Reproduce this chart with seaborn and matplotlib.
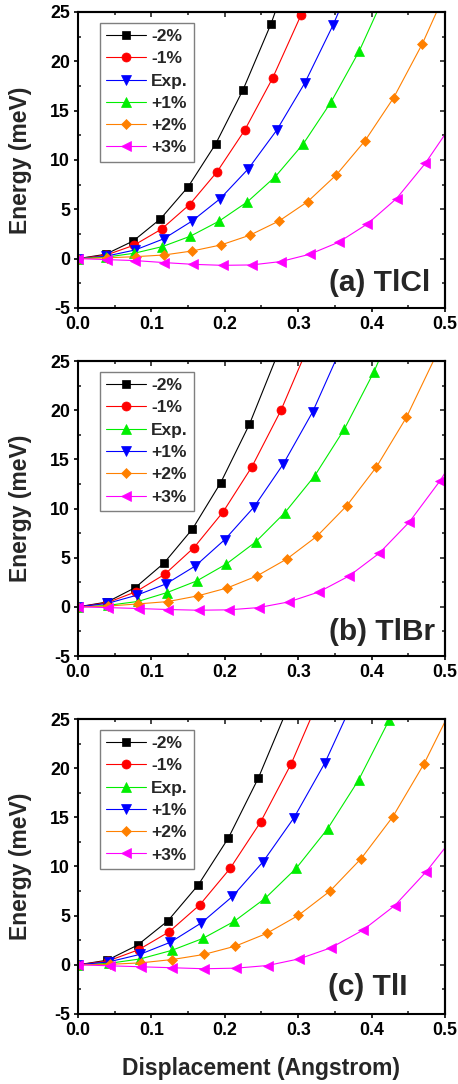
import matplotlib
matplotlib.use("Agg")
import matplotlib.pyplot as plt
import matplotlib.transforms as mtransforms
from matplotlib.ticker import MultipleLocator, FormatStrFormatter
import seaborn as sns

sns.set_theme(style="white")
plt.rcParams["font.family"] = ["Liberation Sans", "DejaVu Sans"]
plt.rcParams["font.weight"] = "bold"
plt.rcParams["axes.labelweight"] = "bold"
plt.rcParams["axes.unicode_minus"] = False

# ---------------- (a) TlCl ----------------
tlcl_m2_x = [0, 0.0376, 0.0753, 0.1124, 0.150, 0.1877, 0.2248, 0.263, 0.301]
tlcl_m2_e = [0, 0.44, 1.79, 4.03, 7.27, 11.64, 17.1, 23.8, 31.8]
tlcl_m1_x = [0, 0.038, 0.076, 0.114, 0.152, 0.1895, 0.227, 0.265, 0.3037, 0.342]
tlcl_m1_e = [0, 0.35, 1.35, 3.0, 5.48, 8.8, 13.0, 18.27, 24.66, 31.8]
tlcl_exp_x = [0, 0.0386, 0.078, 0.1165, 0.155, 0.1935, 0.232, 0.2706, 0.309, 0.3477, 0.386]
tlcl_exp_e = [0, 0.25, 0.88, 2.0, 3.79, 6.06, 9.1, 13.0, 17.8, 23.7, 30.4]
tlcl_p1_x = [0, 0.0384, 0.0768, 0.115, 0.153, 0.192, 0.2307, 0.269, 0.307, 0.345, 0.3835, 0.422]
tlcl_p1_e = [0, 0.15, 0.55, 1.22, 2.27, 3.79, 5.75, 8.32, 11.64, 15.9, 21.08, 27.4]
tlcl_p2_x = [0, 0.039, 0.0789, 0.1174, 0.156, 0.195, 0.234, 0.274, 0.313, 0.352, 0.391, 0.430, 0.469, 0.508]
tlcl_p2_e = [0, 0.08, 0.2, 0.37, 0.78, 1.39, 2.37, 3.82, 5.78, 8.49, 11.94, 16.3, 21.75, 28.2]
tlcl_p3_x = [0, 0.0394, 0.078, 0.117, 0.157, 0.197, 0.2366, 0.276, 0.3155, 0.355, 0.394, 0.434, 0.473, 0.512]
tlcl_p3_e = [0, -0.1, -0.2, -0.4, -0.58, -0.68, -0.64, -0.3, 0.44, 1.66, 3.5, 6.09, 9.64, 13.9]

# ---------------- (b) TlBr ----------------
tlbr_m2_x = [0, 0.0399, 0.078, 0.117, 0.156, 0.1945, 0.2335, 0.2725]
tlbr_m2_e = [0, 0.5, 1.96, 4.44, 7.93, 12.64, 18.56, 25.8]
tlbr_m1_x = [0, 0.0395, 0.0784, 0.1183, 0.158, 0.1976, 0.237, 0.2765, 0.316]
tlbr_m1_e = [0, 0.42, 1.52, 3.32, 6.03, 9.65, 14.26, 19.99, 26.9]
tlbr_exp_x = [0, 0.0403, 0.0816, 0.1215, 0.1618, 0.2017, 0.242, 0.2819, 0.3223, 0.3627, 0.403, 0.443]
tlbr_exp_e = [0, 0.15, 0.55, 1.46, 2.64, 4.34, 6.6, 9.59, 13.31, 18.06, 23.88, 30.7]
tlbr_p1_x = [0, 0.04, 0.0802, 0.120, 0.160, 0.1999, 0.2398, 0.2797, 0.3196, 0.3595]
tlbr_p1_e = [0, 0.35, 1.19, 2.34, 4.17, 6.84, 10.16, 14.53, 19.82, 26.5]
tlbr_p2_x = [0, 0.0408, 0.0816, 0.1224, 0.1632, 0.2035, 0.2439, 0.2847, 0.3255, 0.3663, 0.4066, 0.4474, 0.488]
tlbr_p2_e = [0, 0.08, 0.3, 0.54, 1.12, 1.93, 3.15, 4.88, 7.18, 10.3, 14.23, 19.27, 25.6]
tlbr_p3_x = [0, 0.0404, 0.0825, 0.1233, 0.1646, 0.2054, 0.2462, 0.2874, 0.3282, 0.3695, 0.4103, 0.4515, 0.4927, 0.534]
tlbr_p3_e = [0, -0.07, -0.17, -0.27, -0.34, -0.3, -0.07, 0.51, 1.52, 3.15, 5.45, 8.64, 12.77, 17.6]

# ---------------- (c) TlI ----------------
tli_m2_x = [0, 0.0399, 0.0811, 0.1224, 0.1636, 0.2049, 0.2457, 0.2867]
tli_m2_e = [0, 0.47, 2.0, 4.47, 8.1, 12.9, 19.0, 26.3]
tli_m1_x = [0, 0.0413, 0.0825, 0.1242, 0.1659, 0.2072, 0.2489, 0.2906, 0.3323]
tli_m1_e = [0, 0.4, 1.53, 3.36, 6.1, 9.8, 14.54, 20.47, 27.7]
tli_exp_x = [0, 0.0425, 0.0848, 0.1274, 0.170, 0.2126, 0.2548, 0.2974, 0.340, 0.3822, 0.4243, 0.4665]
tli_exp_e = [0, 0.15, 0.6, 1.46, 2.68, 4.41, 6.75, 9.83, 13.83, 18.78, 24.95, 32.0]
tli_p1_x = [0, 0.0421, 0.0839, 0.126, 0.1682, 0.2104, 0.252, 0.2942, 0.3364, 0.3785]
tli_p1_e = [0, 0.3, 1.05, 2.3, 4.27, 6.95, 10.47, 14.95, 20.54, 27.4]
tli_p2_x = [0, 0.043, 0.0857, 0.1287, 0.1713, 0.2144, 0.257, 0.3001, 0.3432, 0.3858, 0.4288, 0.4714, 0.5145]
tli_p2_e = [0, 0.05, 0.2, 0.54, 1.05, 1.9, 3.19, 5.02, 7.49, 10.81, 15.05, 20.44, 26.9]
tli_p3_x = [0, 0.043, 0.0857, 0.1287, 0.1722, 0.2153, 0.2584, 0.3015, 0.3445, 0.388, 0.4316, 0.4746, 0.518]
tli_p3_e = [0, -0.1, -0.2, -0.3, -0.4, -0.34, -0.07, 0.61, 1.73, 3.52, 6.03, 9.49, 13.6]

series_labels = ["-2%", "-1%", "Exp.", "+1%", "+2%", "+3%"]
panel_titles = ["(a) TlCl", "(b) TlBr", "(c) TlI"]

BLACK, RED, BLUE, GREEN, ORANGE, MAGENTA = "#000000", "#ff0000", "#0000ff", "#00ee00", "#ff8000", "#ff00ff"

panels = [
    dict(title=panel_titles[0],
         data=[(tlcl_m2_x, tlcl_m2_e), (tlcl_m1_x, tlcl_m1_e), (tlcl_exp_x, tlcl_exp_e),
               (tlcl_p1_x, tlcl_p1_e), (tlcl_p2_x, tlcl_p2_e), (tlcl_p3_x, tlcl_p3_e)],
         colors=[BLACK, RED, BLUE, GREEN, ORANGE, MAGENTA],
         markers=["s", "o", "v", "^", "D", "<"],
         rect=[0.1703, 0.7159, 0.8013, 0.2731], title_x=0.959, title_y=-2.5),
    dict(title=panel_titles[1],
         data=[(tlbr_m2_x, tlbr_m2_e), (tlbr_m1_x, tlbr_m1_e), (tlbr_exp_x, tlbr_exp_e),
               (tlbr_p1_x, tlbr_p1_e), (tlbr_p2_x, tlbr_p2_e), (tlbr_p3_x, tlbr_p3_e)],
         colors=[BLACK, RED, GREEN, BLUE, ORANGE, MAGENTA],
         markers=["s", "o", "^", "v", "D", "<"],
         rect=[0.1703, 0.3948, 0.8013, 0.2721], title_x=0.973, title_y=-2.55),
    dict(title=panel_titles[2],
         data=[(tli_m2_x, tli_m2_e), (tli_m1_x, tli_m1_e), (tli_exp_x, tli_exp_e),
               (tli_p1_x, tli_p1_e), (tli_p2_x, tli_p2_e), (tli_p3_x, tli_p3_e)],
         colors=[BLACK, RED, GREEN, BLUE, ORANGE, MAGENTA],
         markers=["s", "o", "^", "v", "D", "<"],
         rect=[0.1703, 0.0646, 0.8013, 0.2721], title_x=0.899, title_y=-2.3),
]

fig = plt.figure(figsize=(4.58, 10.84), dpi=100)
fig.patch.set_facecolor("white")

TICK_FS = 12.8
LEGEND_FS = 12.5
SPINE_W = 1.5

for p in panels:
    ax = fig.add_axes(p["rect"])
    ax.set_facecolor("white")
    for (xs, es), lab, col, mk in zip(p["data"], series_labels, p["colors"], p["markers"]):
        size = 5.5 if mk in ("s", "D") else 6.5
        sns.lineplot(x=xs, y=es, ax=ax, color=col, linewidth=0.8, marker=mk,
                     markersize=size, markeredgecolor=col, markeredgewidth=0.5,
                     label=lab, sort=False, errorbar=None)

    ax.set_xlim(0, 0.5)
    ax.set_ylim(-5, 25)
    ax.xaxis.set_major_locator(MultipleLocator(0.1))
    ax.xaxis.set_minor_locator(MultipleLocator(0.05))
    ax.yaxis.set_major_locator(MultipleLocator(5))
    ax.yaxis.set_minor_locator(MultipleLocator(2.5))
    ax.xaxis.set_major_formatter(FormatStrFormatter("%.1f"))
    ax.yaxis.set_major_formatter(FormatStrFormatter("%d"))
    ax.tick_params(which="major", direction="out", length=3.2, width=1.2,
                   labelsize=TICK_FS, colors="black", pad=2.5,
                   bottom=True, left=True, top=False, right=False)
    ax.tick_params(which="minor", direction="in", length=2.4, width=1.2,
                   bottom=True, left=True, top=False, right=False)
    for lbl in ax.get_xticklabels() + ax.get_yticklabels():
        lbl.set_fontweight("bold")
    for s in ax.spines.values():
        s.set_linewidth(SPINE_W)
        s.set_color("black")
        s.set_visible(True)

    # mirrored inward ticks on top and right
    top = ax.secondary_xaxis("top")
    top.xaxis.set_major_locator(MultipleLocator(0.1))
    top.xaxis.set_minor_locator(MultipleLocator(0.05))
    top.tick_params(which="major", direction="in", length=3.6, width=1.2, labeltop=False)
    top.tick_params(which="minor", direction="in", length=2.4, width=1.2)
    top.spines["top"].set_linewidth(SPINE_W)
    right = ax.secondary_yaxis("right")
    right.yaxis.set_major_locator(MultipleLocator(5))
    right.yaxis.set_minor_locator(MultipleLocator(2.5))
    right.tick_params(which="major", direction="in", length=3.6, width=1.2, labelright=False)
    right.tick_params(which="minor", direction="in", length=2.4, width=1.2)
    right.spines["right"].set_linewidth(SPINE_W)

    ax.set_xlabel("")
    ax.set_ylabel("Energy (meV)", fontsize=16.5, fontweight="bold")
    ax.yaxis.set_label_coords(-0.125, 0.5)

    leg = ax.legend(loc="upper left", bbox_to_anchor=(0.06, 0.963), borderaxespad=0,
                    frameon=True, fancybox=False, edgecolor="#7f7f7f",
                    prop=dict(size=LEGEND_FS, weight="bold"), handlelength=2.3,
                    handletextpad=0.3, labelspacing=0.41, borderpad=0.35)
    leg.get_frame().set_linewidth(1.0)
    leg.get_frame().set_facecolor("white")
    leg.get_frame().set_alpha(1)

    trans = mtransforms.blended_transform_factory(ax.transAxes, ax.transData)
    ax.text(p["title_x"], p["title_y"], p["title"], transform=trans, ha="right",
            va="center", fontsize=21.5, fontweight="bold")

fig.text(0.57, 1 - 1075 / 1084, "Displacement (Angstrom)", ha="center", va="baseline",
         fontsize=16.5, fontweight="bold")

fig.savefig("out.png", dpi=100, facecolor="white")
